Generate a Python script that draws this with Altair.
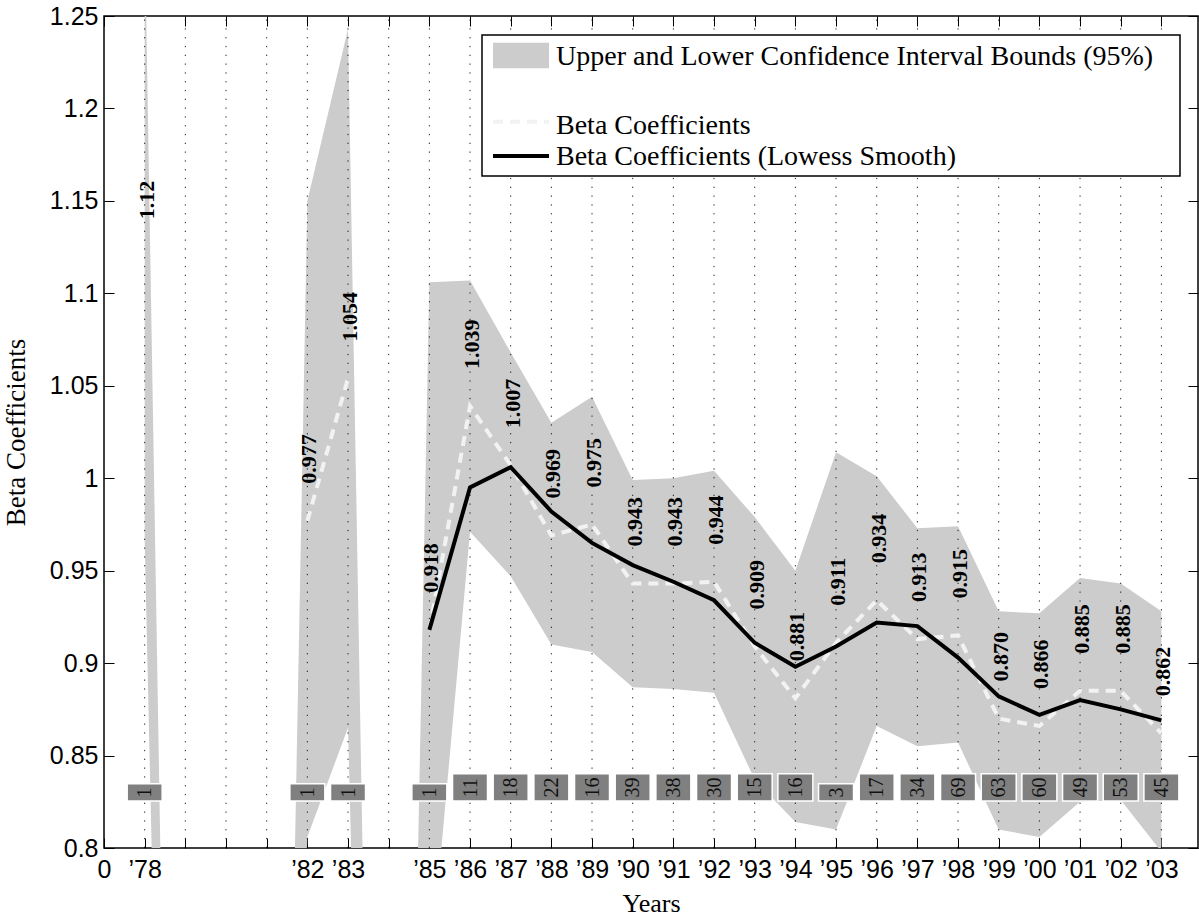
import json
import altair as alt
import pandas as pd

# Each year sits on its own integer slot along x: 1 = 1978 ... 26 = 2003
year_slot = [1, 5, 6, 8, 9, 10, 11, 12, 13, 14, 15, 16, 17, 18, 19, 20, 21, 22, 23, 24, 25, 26]
year_tick = ["’78", "’82", "’83", "’85", "’86", "’87", "’88", "’89", "’90", "’91", "’92",
             "’93", "’94", "’95", "’96", "’97", "’98", "’99", "’00", "’01", "’02", "’03"]
# contiguous runs of estimated years; the dashed line breaks between runs
year_run = ["A", "B", "B", "C", "C", "C", "C", "C", "C", "C", "C",
            "C", "C", "C", "C", "C", "C", "C", "C", "C", "C", "C"]
beta_label = ["1.12", "0.977", "1.054", "0.918", "1.039", "1.007", "0.969", "0.975", "0.943",
              "0.943", "0.944", "0.909", "0.881", "0.911", "0.934", "0.913", "0.915", "0.870",
              "0.866", "0.885", "0.885", "0.862"]
firm_count = [1, 1, 1, 1, 11, 18, 22, 16, 39, 38, 30, 15, 16, 3, 17, 34, 69, 63, 60, 49, 53, 45]

# lowess-smoothed betas, 1985 onwards
smooth_slot = [8, 9, 10, 11, 12, 13, 14, 15, 16, 17, 18, 19, 20, 21, 22, 23, 24, 25, 26]
beta_smooth = [0.918, 0.995, 1.006, 0.982, 0.965, 0.953, 0.944, 0.934, 0.911, 0.898,
               0.909, 0.922, 0.920, 0.903, 0.882, 0.872, 0.880, 0.875, 0.869]

# 95% band; years without an estimate enter the band at zero
band_slot = list(range(1, 27))
band_upper = [1.30, 0, 0, 0, 1.150, 1.243, 0, 1.106, 1.107, 1.068, 1.030, 1.044, 0.999,
              1.000, 1.004, 0.979, 0.950, 1.014, 1.001, 0.973, 0.974, 0.928, 0.927,
              0.946, 0.943, 0.928]
band_lower = [0.966, 0, 0, 0, 0.806, 0.865, 0, 0.728, 0.971, 0.947, 0.910, 0.906, 0.887,
              0.886, 0.884, 0.837, 0.814, 0.810, 0.866, 0.855, 0.857, 0.810, 0.806,
              0.825, 0.826, 0.798]

y_ticks = [0.8, 0.85, 0.9, 0.95, 1.0, 1.05, 1.1, 1.15, 1.2, 1.25]

beta = [float(s) for s in beta_label]
points = pd.DataFrame({"slot": year_slot, "run": year_run, "beta": beta,
                       "label": beta_label, "count": [str(c) for c in firm_count]})
smooth = pd.DataFrame({"slot": smooth_slot, "beta": beta_smooth})
band = pd.DataFrame({"slot": band_slot, "upper": band_upper, "lower": band_lower})
grid = pd.DataFrame({"slot": list(range(1, 27))})

tick_text = ["0"] + [""] * 26
for s, t in zip(year_slot, year_tick):
    tick_text[s] = t
label_expr = json.dumps(tick_text, ensure_ascii=False) + "[datum.value]"

xs = alt.Scale(domain=[0, 26.9], nice=False, zero=False)
ys = alt.Scale(domain=[0.8, 1.25], nice=False, zero=False)

SERIF = "Liberation Serif"
SANS = "Liberation Sans"

tick_style = dict(offset=-10, tickSize=10, tickColor="black", tickWidth=1,
                  domain=False, grid=False)

bottom_axis = alt.Axis(orient="bottom", values=list(range(27)), labelExpr=label_expr,
                       labelFont=SANS, labelFontSize=25, labelColor="black",
                       labelPadding=9, labelOverlap=False, labelFlush=False,
                       title="Years", titleFont=SERIF, titleFontSize=26,
                       titleFontWeight="normal", titleColor="black", titlePadding=8,
                       **tick_style)
left_axis = alt.Axis(orient="left", values=y_ticks, format="~g",
                     labelFont=SANS, labelFontSize=25, labelColor="black",
                     labelPadding=6, labelFlush=False,
                     title="Beta Coefficients", titleFont=SERIF, titleFontSize=27,
                     titleFontWeight="normal", titleColor="black", titlePadding=19,
                     **tick_style)
top_axis = alt.Axis(orient="top", values=list(range(27)), labels=False, title=None, **tick_style)
right_axis = alt.Axis(orient="right", values=y_ticks, labels=False, title=None, **tick_style)

# confidence band, carrying the bottom/left axes
band_layer = alt.Chart(band).mark_area(color="#cccccc", clip=True, opacity=1).encode(
    x=alt.X("slot:Q", scale=xs, axis=bottom_axis),
    y=alt.Y("upper:Q", scale=ys, axis=left_axis),
    y2="lower:Q",
)
# invisible copy carrying the inward ticks on top and right
frame_layer = alt.Chart(band).mark_area(opacity=0, clip=True).encode(
    x=alt.X("slot:Q", scale=xs, axis=top_axis),
    y=alt.Y("upper:Q", scale=ys, axis=right_axis),
    y2="lower:Q",
)

grid_layer = alt.Chart(grid).mark_rule(
    color="black", strokeWidth=1, strokeDash=[1.3, 7.5], opacity=0.85
).encode(
    x=alt.X("slot:Q", scale=xs, axis=None),
    y=alt.YDatum(0.8, axis=None),
    y2=alt.Y2Datum(1.25),
)

beta_line = alt.Chart(points).mark_line(
    color="#f2f2f2", strokeWidth=4, strokeDash=[10, 7], clip=True
).encode(
    x=alt.X("slot:Q", scale=xs, axis=None),
    y=alt.Y("beta:Q", scale=ys, axis=None),
    detail="run:N",
)

smooth_line = alt.Chart(smooth).mark_line(color="black", strokeWidth=4, clip=True).encode(
    x=alt.X("slot:Q", scale=xs, axis=None),
    y=alt.Y("beta:Q", scale=ys, axis=None),
)

# count boxes: custom symbol anchored at its bottom edge, 35 px wide
box_layers = []
for n_digits, box_path in [(1, "M-1,-0.994H1V0H-1Z"), (2, "M-1,-1.566H1V0H-1Z")]:
    box_layers.append(
        alt.Chart(points).transform_filter(f"length(datum.count) == {n_digits}")
        .mark_point(shape=box_path, size=1225, filled=True, fill="#808080",
                    stroke="white", strokeWidth=1.5, opacity=1)
        .encode(
            x=alt.X("slot:Q", scale=xs, axis=None),
            y=alt.YDatum(0.8254, axis=None),
        )
    )

count_text = alt.Chart(points).mark_text(
    angle=270, align="left", baseline="middle", dx=3.5, dy=0.5,
    font=SERIF, fontSize=20, color="#111111"
).encode(
    x=alt.X("slot:Q", scale=xs, axis=None),
    y=alt.YDatum(0.8254, axis=None),
    text="count:N",
)

value_text = alt.Chart(points).mark_text(
    angle=270, align="left", baseline="middle", dx=37, dy=2,
    font=SERIF, fontSize=22, fontWeight="bold", color="black"
).encode(
    x=alt.X("slot:Q", scale=xs, axis=None),
    y=alt.Y("beta:Q", scale=ys, axis=None),
    text="label:N",
)

# legend panel
one = pd.DataFrame({"k": [0]})
legend_box = alt.Chart(one).mark_rect(fill="white", stroke="black", strokeWidth=1.5).encode(
    x=alt.value(378), x2=alt.value(1076), y=alt.value(19), y2=alt.value(160))
legend_swatch = alt.Chart(one).mark_rect(fill="#cccccc").encode(
    x=alt.value(389), x2=alt.value(445), y=alt.value(26.7), y2=alt.value(52.3))
legend_dash = alt.Chart(one).mark_rule(color="#f2f2f2", strokeWidth=4, strokeDash=[10, 7]).encode(
    x=alt.value(389), x2=alt.value(445), y=alt.value(105.7))
legend_solid = alt.Chart(one).mark_rule(color="black", strokeWidth=4).encode(
    x=alt.value(389), x2=alt.value(445), y=alt.value(140))

legend_text = []
for txt, base in [("Upper and Lower Confidence Interval Bounds (95%)", 49),
                  ("Beta Coefficients", 118),
                  ("Beta Coefficients (Lowess Smooth)", 149)]:
    legend_text.append(
        alt.Chart(one).mark_text(align="left", baseline="alphabetic", font=SERIF,
                                 fontSize=28, color="black", text=txt)
        .encode(x=alt.value(452), y=alt.value(base))
    )

chart = alt.layer(
    band_layer, frame_layer, grid_layer, beta_line, smooth_line,
    *box_layers, count_text, value_text,
    legend_box, legend_swatch, legend_dash, legend_solid, *legend_text,
).resolve_axis(
    x="independent", y="independent"
).properties(
    width=1094, height=832,
    padding={"left": 104, "top": 16, "right": 1, "bottom": 70},
    autosize=alt.AutoSizeParams(type="none"),
    background="white",
).configure_view(stroke="black", strokeWidth=1.5)

chart.save("out.html", embed_options={"renderer": "svg", "actions": False})
